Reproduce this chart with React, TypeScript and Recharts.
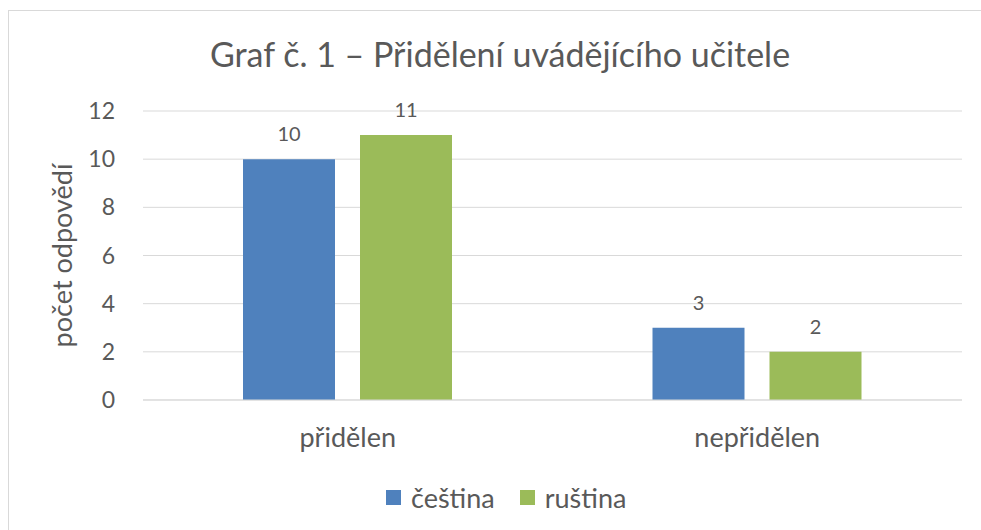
import React from 'react';
import {
  BarChart,
  Bar,
  XAxis,
  YAxis,
  CartesianGrid,
  Legend,
  LabelList,
} from 'recharts';

const categories = ['přidělen', 'nepřidělen'];
const cestina = [10, 3];
const rustina = [11, 2];
const yTicks = [0, 2, 4, 6, 8, 10, 12];
const seriesOrder = ['cestina', 'rustina'];

const data = categories.map((name, i) => ({
  name,
  cestina: cestina[i],
  rustina: rustina[i],
}));

const FONT = 'Lato, "Noto Sans", sans-serif';
const TEXT = '#595959';

const renderLegend = (props: any) => {
  const payload = [...(props.payload || [])].sort(
    (a: any, b: any) => seriesOrder.indexOf(a.dataKey) - seriesOrder.indexOf(b.dataKey)
  );
  return (
    <div style={{ display: 'flex', alignItems: 'center', height: 32, fontFamily: FONT, fontSize: 27, color: TEXT }}>
      {payload.map((entry: any, i: number) => (
        <div key={i} style={{ display: 'flex', alignItems: 'center', marginRight: i === 0 ? 25 : 0 }}>
          <span style={{ width: 15, height: 15, background: entry.color, display: 'inline-block', marginRight: 10 }} />
          <span>{entry.value}</span>
        </div>
      ))}
    </div>
  );
};

export default function App() {
  return (
    <div
      style={{
        position: 'absolute',
        left: 0,
        top: 0,
        width: 981,
        height: 530,
        background: '#fff',
        overflow: 'hidden',
      }}
    >
      {/* chart frame, cut off on the right and bottom like in the original */}
      <div
        style={{
          position: 'absolute',
          left: 8,
          top: 10,
          width: 1000,
          height: 560,
          border: '1px solid #d9d9d9',
          boxSizing: 'border-box',
        }}
      />
      <div
        style={{
          position: 'absolute',
          top: 33,
          left: 0,
          width: 1000,
          textAlign: 'center',
          fontFamily: FONT,
          fontSize: 34,
          lineHeight: '42px',
          color: TEXT,
        }}
      >
        Graf č. 1 – Přidělení uvádějícího učitele
      </div>
      <div style={{ position: 'absolute', left: 0, top: 0 }}>
        <BarChart
          width={981}
          height={530}
          data={data}
          margin={{ top: 111, right: 19, bottom: 48, left: 43 }}
          barGap={25}
          barSize={92}
        >
          <CartesianGrid vertical={false} stroke="#d9d9d9" />
          <XAxis
            dataKey="name"
            axisLine={{ stroke: '#d9d9d9' }}
            tickLine={false}
            tickSize={0}
            tickMargin={28}
            height={50}
            tick={{ fill: TEXT, fontSize: 27, fontFamily: FONT }}
          />
          <YAxis
            width={100}
            domain={[0, 12]}
            ticks={yTicks}
            axisLine={false}
            tickLine={false}
            tickSize={0}
            tickMargin={28}
            tick={{ fill: TEXT, fontSize: 23, fontFamily: FONT }}
            label={{
              value: 'počet odpovědí',
              angle: -90,
              position: 'center',
              dx: -31,
              style: { fill: TEXT, fontSize: 27, fontFamily: FONT, textAnchor: 'middle' },
            }}
          />
          <Legend
            content={renderLegend}
            wrapperStyle={{ position: 'absolute', top: 481, left: 386, width: 'auto' }}
          />
          <Bar dataKey="cestina" name="čeština" fill="#4f81bd" isAnimationActive={false}>
            <LabelList dataKey="cestina" position="top" offset={18} fill={TEXT} fontSize={20} fontFamily={FONT} />
          </Bar>
          <Bar dataKey="rustina" name="ruština" fill="#9bbb59" isAnimationActive={false}>
            <LabelList dataKey="rustina" position="top" offset={18} fill={TEXT} fontSize={20} fontFamily={FONT} />
          </Bar>
        </BarChart>
      </div>
    </div>
  );
}
